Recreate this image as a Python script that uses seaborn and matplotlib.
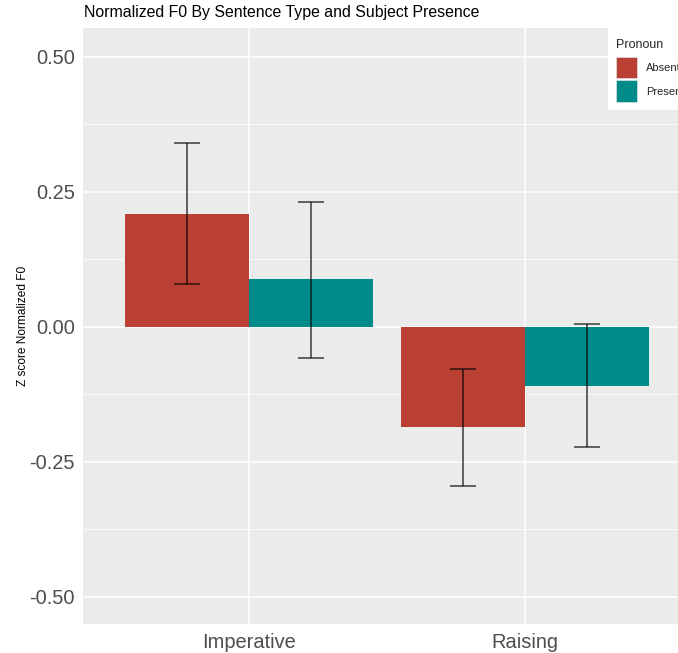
import matplotlib
matplotlib.use("Agg")
import matplotlib.pyplot as plt
import seaborn as sns
import pandas as pd
import numpy as np
from matplotlib.ticker import FixedLocator

# ---- data ----
sentence_types = ["Imperative", "Imperative", "Raising", "Raising"]
pronoun = ["Absent", "Present", "Absent", "Present"]
mean_f0 = [0.209, 0.088, -0.185, -0.109]
ci_lower = [0.080, -0.057, -0.294, -0.223]
ci_upper = [0.341, 0.232, -0.078, 0.006]
y_ticks = [-0.50, -0.25, 0.00, 0.25, 0.50]
y_tick_labels = ["-0.50", "-0.25", "0.00", "0.25", "0.50"]
y_minor = [-0.375, -0.125, 0.125, 0.375]

df = pd.DataFrame({"Sentence": sentence_types, "Pronoun": pronoun,
                   "F0": mean_f0, "lo": ci_lower, "hi": ci_upper})

sns.set_theme(style="darkgrid")
plt.rcParams["font.family"] = ["Liberation Sans", "DejaVu Sans"]

palette = {"Absent": "#BB4034", "Present": "#008B8B"}

W, H = 678, 653
fig = plt.figure(figsize=(W / 100, H / 100), dpi=100)
ax = fig.add_axes([83.4 / W, 1 - 624 / H, (690.6 - 83.4) / W, (624 - 28) / H])
ax.set_facecolor("#EBEBEB")

sns.barplot(data=df, x="Sentence", y="F0", hue="Pronoun", palette=palette,
            hue_order=["Absent", "Present"], order=["Imperative", "Raising"],
            errorbar=None, width=0.9, saturation=1, ax=ax, zorder=3,
            linewidth=0, edgecolor="none")

# error bars at bar centers taken from the drawn bars
for level, cont in zip(["Absent", "Present"], ax.containers):
    sub = df[df["Pronoun"] == level].set_index("Sentence").loc[["Imperative", "Raising"]]
    for bar, (_, row) in zip(cont, sub.iterrows()):
        xc = bar.get_x() + bar.get_width() / 2
        ax.errorbar([xc], [row["F0"]],
                    yerr=[[row["F0"] - row["lo"]], [row["hi"] - row["F0"]]],
                    fmt="none", ecolor="black", elinewidth=1.1, capsize=9.7,
                    capthick=1.1, alpha=0.75, zorder=4)

ax.set_xlim(-0.6, 1.6)
ax.set_ylim(-0.5505, 0.5535)
ax.yaxis.set_major_locator(FixedLocator(y_ticks))
ax.set_yticklabels(y_tick_labels)
ax.yaxis.set_minor_locator(FixedLocator(y_minor))
ax.grid(True, which="major", color="white", linewidth=1.1, zorder=0)
ax.grid(True, which="minor", axis="y", color="white", linewidth=0.55, zorder=0)
ax.set_axisbelow(True)
for s in ax.spines.values():
    s.set_visible(False)

ax.tick_params(axis="both", which="major", length=3.5, width=0.8, color="#333333",
               labelsize=14.4, labelcolor="#4D4D4D", pad=2.5)
ax.tick_params(axis="both", which="minor", length=0)
ax.tick_params(axis="x", pad=3)

ax.set_xlabel("")
ax.set_ylabel("Z score Normalized F0", fontsize=8.6, color="black")
ax.yaxis.set_label_coords(29 / W, 1 - 326 / H, transform=fig.transFigure)

fig.text(84 / W, 1 - 13 / H, "Normalized F0 By Sentence Type and Subject Presence",
         fontsize=11.4, color="black", ha="left", va="center")

# legend: white key background inside the panel, top-right
if ax.get_legend() is not None:
    ax.get_legend().remove()
fig.add_artist(plt.Rectangle((608 / W, 1 - 110 / H), 90 / W, 82 / H,
                             transform=fig.transFigure, facecolor="white",
                             edgecolor="none", zorder=9))
handles = [plt.Rectangle((0, 0), 1, 1, facecolor=palette[k], edgecolor="#e0e0e0", linewidth=0.5)
           for k in ["Absent", "Present"]]
leg = fig.legend(handles, ["Absent", "Present"], title="Pronoun",
                 loc="upper left", bbox_to_anchor=(616 / W, 1 - 39 / H),
                 bbox_transform=fig.transFigure, borderaxespad=0,
                 frameon=False, fontsize=8, title_fontsize=9,
                 handlelength=1.89, handleheight=2.66, labelspacing=0.18,
                 handletextpad=0.81, borderpad=0)
leg._legend_box.align = "left"
leg._legend_box.sep = 4
leg.set_zorder(10)

fig.savefig("out.png", dpi=100)
